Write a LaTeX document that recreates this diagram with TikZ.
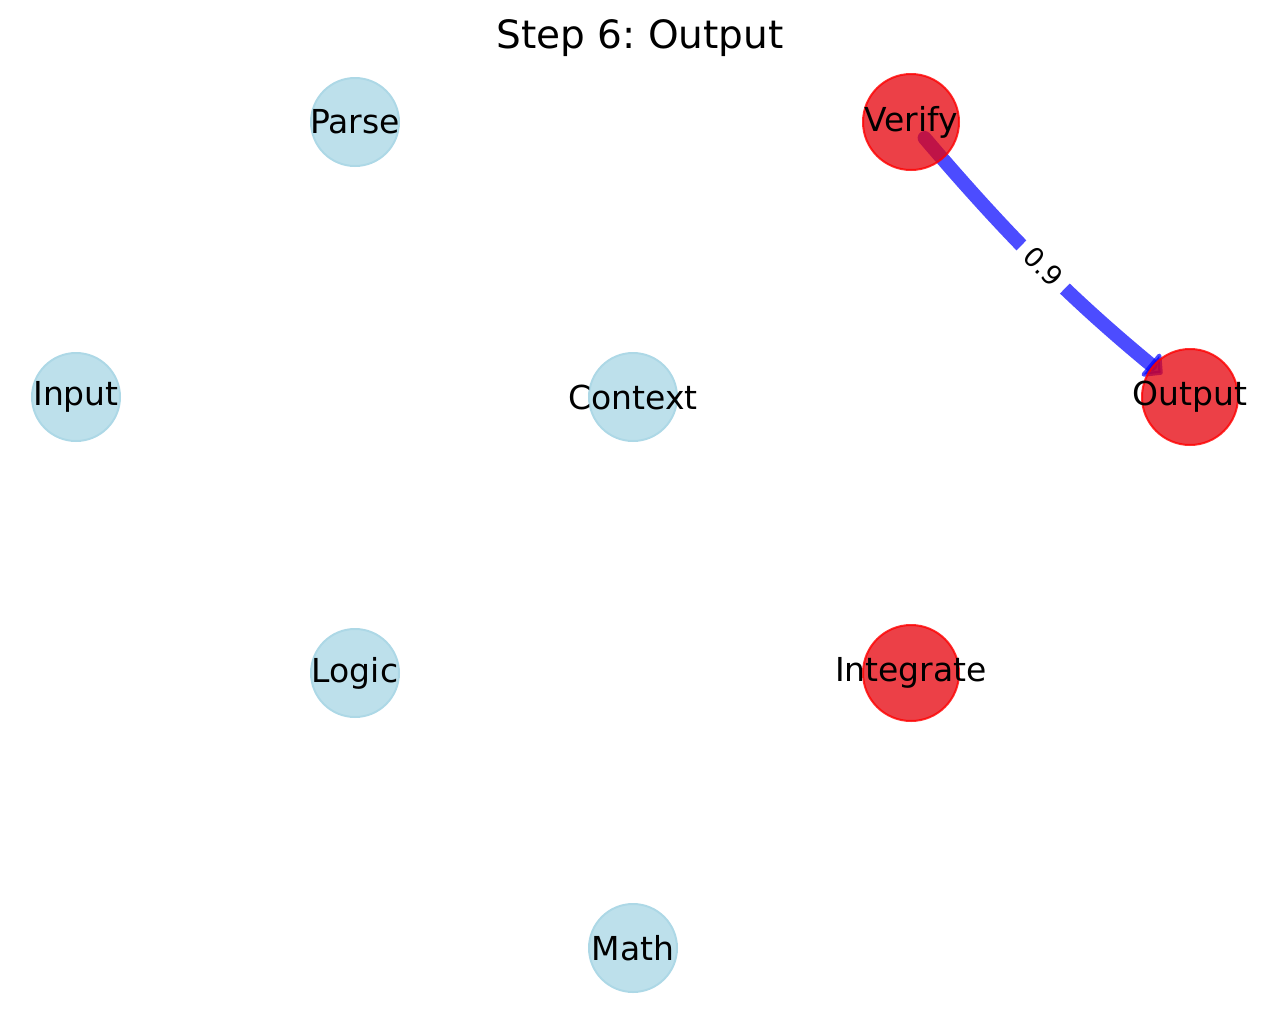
\documentclass[tikz,border=0pt]{standalone}
\usepackage{fontspec}
\setmainfont{DejaVu Sans}
\usetikzlibrary{arrows.meta,backgrounds}
\definecolor{lb}{RGB}{173,216,230}
\definecolor{rd}{RGB}{230,0,10}
\definecolor{eb}{RGB}{0,0,255}
\frenchspacing
\begin{document}
\begin{tikzpicture}[x=1pt,y=1pt,
  idle/.style={circle,minimum size=88pt,inner sep=0pt,fill=lb,fill opacity=0.8,draw=lb,line width=2pt},
  active/.style={circle,minimum size=96pt,inner sep=0pt,fill=rd,fill opacity=0.75,draw=red,draw opacity=0.8,line width=2pt},
  lbl/.style={font=\fontsize{33}{40}\selectfont,text=black,text opacity=1,fill opacity=1,draw=none,fill=none},
  every label/.style={lbl}
]
\useasboundingbox (0,0) rectangle (1280,-1010);
\node (title) at (640,-38) {\fontsize{39}{46}\selectfont Step 6: Output};
\node[idle, label={center:Parse}] (parse) at (355,-122) {};
\node[active, label={center:Verify}] (verify) at (911,-122) {};
\node[idle, label={center:Input}] (input) at (76,-397) {};
\node[idle, label={center:Context}] (context) at (633,-397) {};
\node[active, label={center:Output}] (output) at (1190,-397) {};
\node[idle, label={center:Logic}] (logic) at (355,-673) {};
\node[active, label={center:Integrate}] (integrate) at (911,-673) {};
\node[idle, label={center:Math}] (math) at (633,-948) {};
\begin{scope}[on background layer]
\draw[eb, draw opacity=0.7, fill opacity=0.7, line width=14pt, line cap=round,
  -{Triangle[width=34pt,length=17pt,round]}, shorten <=21pt, shorten >=36pt, bend right=5]
  (verify.center) to node[pos=0.5, sloped, fill=white, fill opacity=1, draw=none, rounded corners=5pt,
  inner xsep=9pt, inner ysep=6pt, font=\fontsize{27}{32}\selectfont, text=black, text opacity=1] (w) {0.9} (output.center);
\end{scope}
\end{tikzpicture}
\end{document}
